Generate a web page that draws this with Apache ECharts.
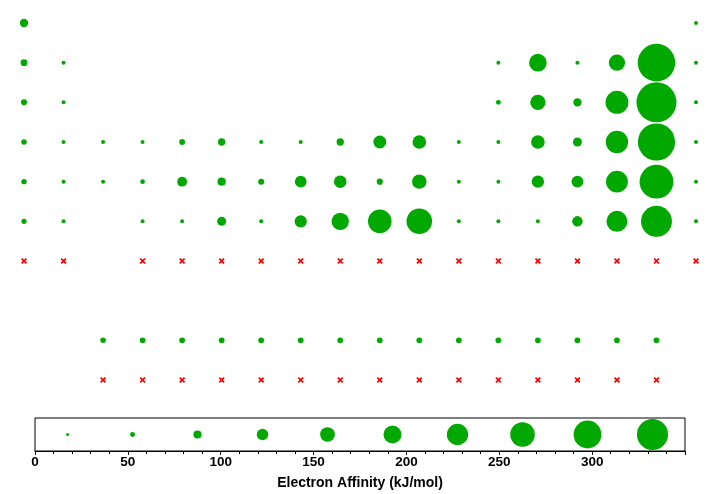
<!DOCTYPE html>
<html>
<head>
<meta charset="utf-8">
<script src="https://cdn.jsdelivr.net/npm/echarts@6/dist/echarts.min.js"></script>
<style>html,body{margin:0;padding:0;background:#fff}#c{width:720px;height:494px}</style>
</head>
<body>
<div id="c"></div>
<script>
// Elements: symbol, table column (group), table row (period; 9 = lanthanides, 10 = actinides)
const symbols = [
  'H','He',
  'Li','Be','B','C','N','O','F','Ne',
  'Na','Mg','Al','Si','P','S','Cl','Ar',
  'K','Ca','Sc','Ti','V','Cr','Mn','Fe','Co','Ni','Cu','Zn','Ga','Ge','As','Se','Br','Kr',
  'Rb','Sr','Y','Zr','Nb','Mo','Tc','Ru','Rh','Pd','Ag','Cd','In','Sn','Sb','Te','I','Xe',
  'Cs','Ba','Hf','Ta','W','Re','Os','Ir','Pt','Au','Hg','Tl','Pb','Bi','Po','At','Rn',
  'Fr','Ra','Rf','Db','Sg','Bh','Hs','Mt','Ds','Rg','Cn','Nh','Fl','Mc','Lv','Ts','Og',
  'La','Ce','Pr','Nd','Pm','Sm','Eu','Gd','Tb','Dy','Ho','Er','Tm','Yb','Lu',
  'Ac','Th','Pa','U','Np','Pu','Am','Cm','Bk','Cf','Es','Fm','Md','No','Lr'
];
const groups = [
  1,18,
  1,2,13,14,15,16,17,18,
  1,2,13,14,15,16,17,18,
  1,2,3,4,5,6,7,8,9,10,11,12,13,14,15,16,17,18,
  1,2,3,4,5,6,7,8,9,10,11,12,13,14,15,16,17,18,
  1,2,4,5,6,7,8,9,10,11,12,13,14,15,16,17,18,
  1,2,4,5,6,7,8,9,10,11,12,13,14,15,16,17,18,
  3,4,5,6,7,8,9,10,11,12,13,14,15,16,17,
  3,4,5,6,7,8,9,10,11,12,13,14,15,16,17
];
const rows = [
  1,1,
  2,2,2,2,2,2,2,2,
  3,3,3,3,3,3,3,3,
  4,4,4,4,4,4,4,4,4,4,4,4,4,4,4,4,4,4,
  5,5,5,5,5,5,5,5,5,5,5,5,5,5,5,5,5,5,
  6,6,6,6,6,6,6,6,6,6,6,6,6,6,6,6,6,
  7,7,7,7,7,7,7,7,7,7,7,7,7,7,7,7,7,
  9,9,9,9,9,9,9,9,9,9,9,9,9,9,9,
  10,10,10,10,10,10,10,10,10,10,10,10,10,10,10
];
// Electron affinity (kJ/mol); null = not available (red cross)
const affinity = [
  72.8,0,
  59.6,0,26.7,153.9,7,141,328,0,
  52.8,0,42.5,133.6,72,200,349,0,
  48.4,2.37,18.1,7.6,50.6,64.3,0,15.7,63.7,112,118.4,0,28.9,119,78,195,324.6,0,
  46.9,5.03,29.6,41.1,86.1,71.9,53,101.3,109.7,53.7,125.6,0,28.9,107.3,103.2,190.2,295.2,0,
  45.5,13.95,0,31,78.6,14.5,106.1,151,205.3,222.8,0,19.2,35.1,91.2,183.3,270.1,0,
  null,null,null,null,null,null,null,null,null,null,null,null,null,null,null,null,null,
  48,50,50,50,50,50,50,50,50,50,50,50,50,50,50,
  null,null,null,null,null,null,null,null,null,null,null,null,null,null,null
];
// Legend bubble values
const legendValues = [17.5,52.5,87.5,122.5,157.5,192.5,227.5,262.5,297.5,332.5];

const known = [], unknown = [];
symbols.forEach((s,i)=>{
  if (affinity[i] === null) unknown.push({name:s, value:[groups[i], rows[i]]});
  else known.push({name:s, value:[groups[i], rows[i], affinity[i]]});
});

const GREEN = '#00a800';
const crossPath = 'path://M0,2 L2,0 L5,3 L8,0 L10,2 L7,5 L10,8 L8,10 L5,7 L2,10 L0,8 L3,5 Z';
const FONT = 'Liberation Sans, Arial, Helvetica, sans-serif';

const chart = echarts.init(document.getElementById('c'), null, {renderer:'canvas'});
chart.setOption({
  animation:false,
  backgroundColor:'#fff',
  grid:[
    {left:24, right:24, top:23, height:357},
    {left:35, right:35, top:418, height:33, show:true, borderColor:'#000', borderWidth:1}
  ],
  xAxis:[
    {gridIndex:0, type:'value', min:1, max:18, show:false},
    {gridIndex:1, type:'value', min:0, max:350, interval:50,
     axisLine:{show:true, lineStyle:{color:'#000', width:1}},
     axisTick:{show:true, length:4, lineStyle:{color:'#000'}},
     minorTick:{show:true, splitNumber:5, length:3, lineStyle:{color:'#000'}},
     splitLine:{show:false},
     axisLabel:{color:'#000', fontFamily:FONT, fontWeight:'bold', fontSize:13.5, margin:4,
       formatter:v=> v>=350 ? '' : String(v)},
     name:'Electron Affinity (kJ/mol)', nameLocation:'middle', nameGap:25,
     nameTextStyle:{color:'#000', fontFamily:FONT, fontWeight:'bold', fontSize:14}}
  ],
  yAxis:[
    {gridIndex:0, type:'value', min:1, max:10, inverse:true, show:false},
    {gridIndex:1, type:'value', min:0, max:1, show:false}
  ],
  series:[
    {type:'scatter', xAxisIndex:0, yAxisIndex:0, clip:false, data:known,
     symbol:'circle', symbolSize:v=>Math.max(4, v[2]*0.1146),
     itemStyle:{color:GREEN, opacity:1}},
    {type:'scatter', xAxisIndex:0, yAxisIndex:0, clip:false, data:unknown,
     symbol:crossPath, symbolSize:6, itemStyle:{color:'#ff0000', opacity:1}},
    {type:'scatter', xAxisIndex:1, yAxisIndex:1, clip:false,
     data:legendValues.map(v=>[v,0.5]),
     symbol:'circle', symbolSize:v=>Math.max(3, v[0]*0.0935),
     itemStyle:{color:GREEN, opacity:1}}
  ]
});
</script>
</body>
</html>
